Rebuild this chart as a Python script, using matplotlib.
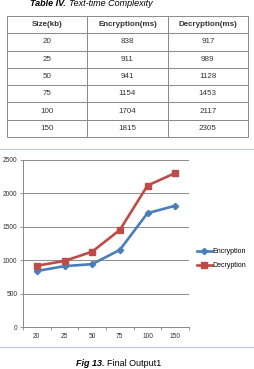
import matplotlib
matplotlib.use("Agg")
import matplotlib.pyplot as plt
from matplotlib.lines import Line2D

plt.rcParams['font.family'] = ['Liberation Sans', 'DejaVu Sans']

# data
sizes = ["20", "25", "50", "75", "100", "150"]
encryption = [838, 911, 941, 1154, 1704, 1815]
decryption = [917, 989, 1128, 1453, 2117, 2305]
col_labels = ["Size(kb)", "Encryption(ms)", "Decryption(ms)"]
y_ticks = [0, 500, 1000, 1500, 2000, 2500]

W, H = 254, 369
fig = plt.figure(figsize=(W / 100, H / 100), dpi=100)


def fx(px):
    return px / W


def fy(py):
    return 1 - py / H


def two_part(x0, y0, bold_txt, rest_txt, size):
    """bold italic lead-in followed by a second text, placed right after it"""
    t1 = fig.text(fx(x0), fy(y0), bold_txt, fontsize=size, fontweight="bold",
                  fontstyle="italic", ha="left", va="center")
    fig.canvas.draw()
    bb = t1.get_window_extent()
    return t1, bb.x1


# title (partly cut at the top in the reference)
_, end = two_part(30, 3, "Table IV.", "", 6.5)
fig.text((end + 3) / W, fy(3), "Text-time Complexity", fontsize=6.5,
         fontstyle="italic", ha="left", va="center")

# table
tax = fig.add_axes([fx(7), fy(137), fx(248) - fx(7), fy(16) - fy(137)])
tax.axis("off")
rows = [[s, str(e), str(d)] for s, e, d in zip(sizes, encryption, decryption)]
tbl = tax.table(cellText=rows, colLabels=col_labels, cellLoc="center",
                bbox=[0, 0, 1, 1])
tbl.auto_set_font_size(False)
for (r, c), cell in tbl.get_celld().items():
    cell.set_edgecolor("#8a8a8a")
    cell.set_linewidth(0.7)
    cell.get_text().set_fontsize(5.8)
    cell.get_text().set_color("#333333")
    if r == 0:
        cell.get_text().set_fontweight("bold")

# light blue frame lines around the chart
for py in (149, 347):
    fig.add_artist(Line2D([0, 1], [fy(py), fy(py)], color="#b4cbe3", lw=0.8))

# chart
ax = fig.add_axes([fx(23), fy(327), fx(189) - fx(23), fy(160) - fy(327)])
x = list(range(len(sizes)))
ax.plot(x, encryption, color="#4a7ebb", lw=1.9, marker="D", ms=3.2,
        label="Encryption")
ax.plot(x, decryption, color="#be4b48", lw=1.9, marker="s", ms=4,
        label="Decryption")
ax.set_xlim(-0.5, len(sizes) - 0.5)
ax.set_ylim(0, 2500)
ax.set_yticks(y_ticks)
ax.set_yticklabels([str(v) for v in y_ticks], fontsize=4.8, color="#333333")
ax.set_xticks(x)
ax.set_xticklabels(sizes, fontsize=4.8, color="#333333")
ax.set_xticks([i - 0.5 for i in range(len(sizes) + 1)], minor=True)
ax.tick_params(axis="x", which="major", length=0, pad=4)
ax.tick_params(axis="x", which="minor", length=2.5, color="#888888", width=0.6)
ax.tick_params(axis="y", length=2.5, color="#888888", width=0.6, pad=1.5)
ax.grid(axis="y", color="#8c8c8c", lw=0.7)
ax.set_axisbelow(True)
for side in ("top", "right"):
    ax.spines[side].set_visible(False)
for side in ("left", "bottom"):
    ax.spines[side].set_color("#888888")
    ax.spines[side].set_linewidth(0.7)

ax.legend(loc="center left", bbox_to_anchor=(1.03, 0.41), frameon=False,
          fontsize=5, handlelength=2.2, handletextpad=0.1,
          labelspacing=1.0, borderaxespad=0)

# caption
fig.text(fx(104), fy(363), "Fig 13.", fontsize=6.5, fontweight="bold",
         fontstyle="italic", ha="right", va="center")
fig.text(fx(107), fy(363), "Final Output1", fontsize=6.5,
         ha="left", va="center")

fig.savefig("out.png", dpi=100)
